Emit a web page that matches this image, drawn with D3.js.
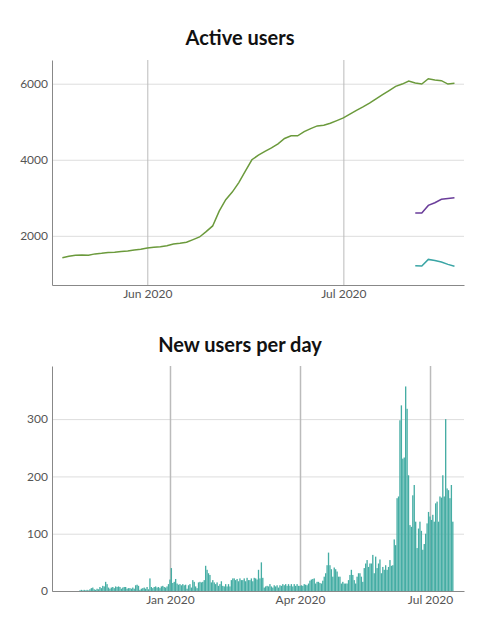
<!DOCTYPE html>
<html lang="en">
<head>
<meta charset="UTF-8">
<title>Active users / New users per day</title>
<script src="https://d3js.org/d3.v7.min.js"></script>
<style>
  body { margin: 0; background: #fff; }
  svg { display: block; font-family: Lato, sans-serif; }
  .title { font-size: 20px; font-weight: bold; fill: #111; }
  .axis text { font-family: Lato, sans-serif; font-size: 12px; fill: #555; }
  .axis path { stroke: #888; }
  .grid-y line { stroke: #ddd; }
  .grid-x line { stroke: #bbb; }
</style>
</head>
<body>
<svg width="480" height="634"></svg>
<script>
// ---- Active users (daily points, May 19 - Jul 18 2020) ----
const activeStart = new Date(2020, 4, 19);
const activeMonthly = [
  1425, 1460, 1490, 1495, 1490, 1525, 1540, 1560, 1570, 1585,
  1600, 1625, 1650, 1680, 1700, 1715, 1740, 1785, 1805, 1830,
  1900, 1970, 2110, 2260, 2650, 2950, 3150, 3400, 3700, 4000,
  4120, 4220, 4310, 4420, 4560, 4630, 4630, 4740, 4820, 4890,
  4910, 4960, 5030, 5100, 5200, 5300, 5390, 5490, 5600, 5710,
  5820, 5930, 5990, 6070, 6020, 5990, 6130, 6100, 6080, 5990,
  6010
];
const weeklyStart = new Date(2020, 6, 12);
const activeWeekly = [2600, 2600, 2800, 2870, 2960, 2980, 3000];
const activeDaily = [1210, 1205, 1380, 1350, 1310, 1250, 1200];

// ---- New users per day (Oct 30 2019 - Jul 17 2020) ----
const newStart = new Date(2019, 9, 30);
const newUsers = [
  // Oct
  1, 2,
  // Nov
  1, 2, 1, 2, 1, 3, 5, 6, 3, 2, 4, 3, 7, 5, 9, 8, 16, 12, 6, 4,
  6, 7, 5, 8, 7, 8, 7, 4, 6, 7,
  // Dec
  7, 4, 5, 5, 4, 6, 4, 10, 11, 9, 2, 4, 5, 6, 4, 7, 3, 22, 7, 5,
  7, 8, 6, 7, 5, 8, 9, 7, 6, 8, 12,
  // Jan
  20, 40, 14, 16, 21, 13, 11, 12, 10, 12, 10, 11, 4, 10, 12, 6, 19, 16, 8, 5,
  15, 16, 15, 16, 19, 44, 37, 31, 28, 15, 19,
  // Feb
  15, 12, 15, 9, 12, 17, 9, 8, 12, 8, 12, 8, 19, 22, 22, 19, 21, 17, 22, 19,
  19, 22, 17, 23, 19, 19, 22, 17, 23,
  // Mar
  22, 20, 37, 22, 50, 23, 6, 8, 9, 8, 12, 8, 6, 10, 8, 10, 6, 10, 9, 12,
  10, 12, 9, 12, 9, 12, 8, 12, 9, 12, 9,
  // Apr
  9, 10, 9, 12, 11, 10, 13, 18, 20, 21, 22, 13, 16, 16, 14, 13, 18, 25, 31, 45,
  67, 45, 38, 25, 41, 38, 34, 25, 25, 13,
  // May
  16, 13, 13, 13, 19, 28, 37, 28, 19, 13, 25, 31, 31, 25, 16, 40, 48, 54, 42, 48,
  48, 63, 31, 60, 40, 48, 55, 31, 42, 37, 45,
  // Jun
  37, 42, 54, 44, 45, 90, 80, 162, 165, 298, 324, 231, 233, 357, 318, 202, 115, 112, 167, 185,
  121, 75, 109, 121, 105, 72, 82, 100, 118, 138,
  // Jul
  130, 124, 133, 121, 153, 156, 121, 165, 163, 202, 165, 300, 179, 176, 162, 185, 121
];

const svg = d3.select("svg");
const left = 52, right = 464;
const fmt = d3.timeFormat("%b %Y");
const num = d3.format("d");

function toPoints(start, values) {
  return values.map((v, i) => ({ date: d3.timeDay.offset(start, i), value: v }));
}

// ================= Chart 1: Active users =================
{
  const top = 60, bottom = 285;
  const series = [
    { color: "#6b9a3c", data: toPoints(activeStart, activeMonthly) },
    { color: "#6a3d9a", data: toPoints(weeklyStart, activeWeekly) },
    { color: "#3aa5a5", data: toPoints(weeklyStart, activeDaily) }
  ];
  const all = series.flatMap(s => s.data.map(d => d.value));
  const [lo, hi] = d3.extent(all);
  const pad = (hi - lo) * 0.1;

  const x = d3.scaleTime()
    .domain([new Date(2020, 4, 17, 10), new Date(2020, 6, 19, 11)])
    .range([left, right]);
  const y = d3.scaleLinear().domain([lo - pad, hi + pad]).range([bottom, top]);

  svg.append("text").attr("class", "title")
    .attr("x", 240).attr("y", 45).attr("text-anchor", "middle")
    .text("Active users");

  svg.append("g").attr("class", "grid-y")
    .attr("transform", `translate(${left},0)`)
    .call(d3.axisLeft(y).ticks(3).tickSize(-(right - left)).tickFormat(""))
    .call(g => g.select(".domain").remove());
  svg.append("g").attr("class", "grid-x")
    .attr("transform", `translate(0,${bottom})`)
    .call(d3.axisBottom(x).ticks(d3.timeMonth.every(1)).tickSize(-(bottom - top)).tickFormat(""))
    .call(g => g.select(".domain").remove());

  const line = d3.line().x(d => x(d.date)).y(d => y(d.value));
  series.forEach(s => {
    svg.append("path").datum(s.data)
      .attr("fill", "none")
      .attr("stroke", s.color)
      .attr("stroke-width", 1.5)
      .attr("d", line);
  });

  svg.append("g").attr("class", "axis")
    .attr("transform", `translate(${left},0)`)
    .call(d3.axisLeft(y).ticks(3).tickSize(0).tickPadding(4).tickFormat(num));
  svg.append("g").attr("class", "axis")
    .attr("transform", `translate(0,${bottom})`)
    .call(d3.axisBottom(x).ticks(d3.timeMonth.every(1)).tickSize(0).tickPadding(4).tickFormat(fmt));
}

// ================= Chart 2: New users per day =================
{
  const top = 366, bottom = 591;
  const data = toPoints(newStart, newUsers);

  const x = d3.scaleTime()
    .domain([new Date(2019, 9, 10, 10), new Date(2020, 6, 24, 19)])
    .range([left, right]);
  const y = d3.scaleLinear().domain([0, d3.max(newUsers) * 1.1]).range([bottom, top]);

  svg.append("text").attr("class", "title")
    .attr("x", 240).attr("y", 352).attr("text-anchor", "middle")
    .text("New users per day");

  svg.append("g").attr("class", "grid-y")
    .attr("transform", `translate(${left},0)`)
    .call(d3.axisLeft(y).ticks(4).tickSize(-(right - left)).tickFormat(""))
    .call(g => g.select(".domain").remove());
  svg.append("g").attr("class", "grid-x")
    .attr("transform", `translate(0,${bottom})`)
    .call(d3.axisBottom(x).ticks(d3.timeMonth.every(3)).tickSize(-(bottom - top)).tickFormat(""))
    .call(g => g.selectAll("line").attr("stroke", "#dcdcdc").attr("stroke-width", 1.5))
    .call(g => g.select(".domain").remove());

  const w = x(d3.timeDay.offset(newStart, 1)) - x(newStart);
  svg.append("g").selectAll("rect")
    .data(data)
    .join("rect")
    .attr("x", d => x(d.date) - w / 2)
    .attr("width", w - 0.1)
    .attr("y", d => y(d.value))
    .attr("height", d => bottom - y(d.value))
    .attr("fill", "#45ada4");

  svg.append("g").attr("class", "axis")
    .attr("transform", `translate(${left},0)`)
    .call(d3.axisLeft(y).ticks(4).tickSize(0).tickPadding(4).tickFormat(num));
  svg.append("g").attr("class", "axis")
    .attr("transform", `translate(0,${bottom})`)
    .call(d3.axisBottom(x).ticks(d3.timeMonth.every(3)).tickSize(0).tickPadding(4).tickFormat(fmt));
}
</script>
</body>
</html>
